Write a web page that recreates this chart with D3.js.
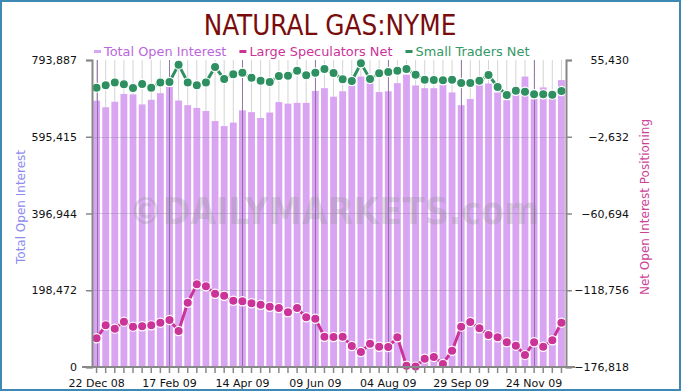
<!DOCTYPE html>
<html>
<head>
<meta charset="utf-8">
<script src="https://cdn.jsdelivr.net/npm/d3@7"></script>
<style>
  html, body { margin: 0; padding: 0; background: #fff; }
  svg { display: block; }
  text { font-family: "DejaVu Sans", Verdana, sans-serif; }
</style>
</head>
<body>
<svg id="chart" width="681" height="391"></svg>
<script>
const dates = ["22 Dec 08","30 Dec 08","06 Jan 09","13 Jan 09","20 Jan 09","27 Jan 09","03 Feb 09","10 Feb 09",
  "17 Feb 09","24 Feb 09","03 Mar 09","10 Mar 09","17 Mar 09","24 Mar 09","31 Mar 09","07 Apr 09",
  "14 Apr 09","21 Apr 09","28 Apr 09","05 May 09","12 May 09","19 May 09","26 May 09","02 Jun 09",
  "09 Jun 09","16 Jun 09","23 Jun 09","30 Jun 09","07 Jul 09","14 Jul 09","21 Jul 09","28 Jul 09",
  "04 Aug 09","11 Aug 09","18 Aug 09","25 Aug 09","01 Sep 09","08 Sep 09","15 Sep 09","22 Sep 09",
  "29 Sep 09","06 Oct 09","13 Oct 09","20 Oct 09","27 Oct 09","03 Nov 09","10 Nov 09","17 Nov 09",
  "24 Nov 09","01 Dec 09","08 Dec 09","15 Dec 09"];
const labelledDates = ["22 Dec 08","17 Feb 09","14 Apr 09","09 Jun 09","04 Aug 09","29 Sep 09","24 Nov 09"];

const totalOpenInterest = [688600,671600,686000,706000,705000,679000,691000,708000,
  725000,689000,677000,670000,662000,636000,623000,632000,
  663600,659000,644000,658000,685000,681000,683000,683000,
  714000,721000,699000,713000,728000,751000,734000,711000,
  713000,734000,756000,728000,721000,721000,730000,710000,
  677000,693000,729000,733000,710000,690000,703000,751000,
  693000,723000,693000,742000];

const largeSpeculatorsNet = [-155100,-145300,-147800,-142500,-146300,-146000,-145300,-143300,
  -141300,-149600,-128200,-114300,-115800,-121400,-122900,-126700,
  -127100,-128600,-129700,-131200,-132200,-135400,-132200,-139200,
  -140300,-153900,-154100,-153900,-160900,-165500,-159200,-161500,
  -161700,-154400,-175800,-176500,-170500,-169200,-174500,-164500,
  -146300,-142800,-147500,-152600,-154400,-158100,-160700,-167700,
  -158100,-161500,-156600,-143300];

const smallTradersNet = [34500,36300,38500,37000,34300,37300,34500,38500,
  38800,51900,38500,36300,38500,50100,41100,44600,
  45800,42000,39800,38800,43300,43600,47300,43900,
  45800,48600,45600,40800,39500,52900,41100,45400,
  46400,47300,48600,44300,40500,40300,40100,40500,
  38000,38000,39800,44100,35000,29000,32200,31500,
  29500,29500,29200,32000];

const leftTicks = [0, 198472, 396944, 595415, 793887];
const rightTicks = [-176818, -118756, -60694, -2632, 55430];

const seriesNames = ["Total Open Interest", "Large Speculators Net", "Small Traders Net"];
const seriesColors = ["#c77ce8", "#cc3399", "#2e9060"];
const legendTextColors = ["#bb66dd", "#cc3399", "#339966"];

const svg = d3.select("#chart");
const W = 681, H = 391;
const m = {left: 92, right: 566, top: 60, bottom: 367};

// outer border
svg.append("rect").attr("x", 1).attr("y", 1).attr("width", W - 2).attr("height", H - 2)
  .attr("fill", "#fff").attr("stroke", "#3d89b3").attr("stroke-width", 2);

const x = d3.scaleBand().domain(dates).range([m.left, m.right]).paddingInner(0.25).paddingOuter(0.125);
const yL = d3.scaleLinear().domain([0, 793887]).range([m.bottom, m.top]);
const yR = d3.scaleLinear().domain([-176818, 55430]).range([m.bottom, m.top]);
const cx = d => x(d) + x.bandwidth() / 2;

// minor vertical gridlines
svg.append("g").selectAll("line").data(dates).join("line")
  .attr("x1", d => cx(d)).attr("x2", d => cx(d))
  .attr("y1", m.top).attr("y2", m.bottom)
  .attr("stroke", "#d4d4d4").attr("stroke-width", 1);

// bars
svg.append("g").selectAll("rect").data(totalOpenInterest).join("rect")
  .attr("x", (d, i) => x(dates[i]))
  .attr("width", x.bandwidth())
  .attr("y", d => yL(d))
  .attr("height", d => yL(0) - yL(d))
  .attr("fill", "#d9a5f2");

// horizontal gridlines
svg.append("g").selectAll("line").data(leftTicks.slice(1, -1)).join("line")
  .attr("x1", m.left).attr("x2", m.right)
  .attr("y1", d => Math.round(yL(d)) + 0.5).attr("y2", d => Math.round(yL(d)) + 0.5)
  .attr("stroke", "#8a7f96").attr("stroke-opacity", 0.35).attr("stroke-width", 1);

// major vertical gridlines
svg.append("g").selectAll("line").data(labelledDates).join("line")
  .attr("x1", d => Math.round(cx(d)) + 0.5).attr("x2", d => Math.round(cx(d)) + 0.5)
  .attr("y1", m.top).attr("y2", m.bottom)
  .attr("stroke", "#7d5a96").attr("stroke-opacity", 0.75).attr("stroke-width", 1);

// watermark (scaled horizontally to fit its span)
const wm = svg.append("text").attr("text-anchor", "middle")
  .attr("font-size", 38).attr("font-weight", "bold")
  .attr("fill", "#8f8f8f").attr("fill-opacity", 0.28)
  .text("©DAILYMARKETS.com");
const wmW = wm.node().getComputedTextLength();
wm.attr("transform", `translate(334,224) scale(${410 / wmW},1)`);

// lines
function drawLine(data, color) {
  const line = d3.line().x((d, i) => cx(dates[i])).y(d => yR(d));
  svg.append("path").datum(data).attr("d", line)
    .attr("fill", "none").attr("stroke", color).attr("stroke-width", 3);
  svg.append("g").selectAll("circle").data(data).join("circle")
    .attr("cx", (d, i) => cx(dates[i])).attr("cy", d => yR(d)).attr("r", 4.6)
    .attr("fill", color).attr("stroke", "#fff").attr("stroke-width", 1.2);
}
drawLine(smallTradersNet, seriesColors[2]);
drawLine(largeSpeculatorsNet, seriesColors[1]);

// axes
const axisColor = "#888";
const fmt = d3.format(",");
const gL = svg.append("g").attr("transform", `translate(${m.left},0)`)
  .call(d3.axisLeft(yL).tickValues(leftTicks).tickFormat(fmt).tickSize(6).tickPadding(9));
const gR = svg.append("g").attr("transform", `translate(${m.right},0)`)
  .call(d3.axisRight(yR).tickValues(rightTicks).tickFormat(fmt).tickSize(6).tickPadding(9));
gR.selectAll(".tick text").attr("text-anchor", "end").attr("x", 629 - m.right);
const gB = svg.append("g").attr("transform", `translate(0,${m.bottom})`)
  .call(d3.axisBottom(x).tickValues(dates).tickFormat(d => labelledDates.includes(d) ? d : "").tickSize(6).tickPadding(6).tickSizeOuter(0));
[gL, gR, gB].forEach(g => {
  g.select(".domain").attr("stroke", axisColor).attr("stroke-width", 2);
  g.selectAll(".tick line").attr("stroke", axisColor).attr("stroke-width", 1.5);
  g.selectAll(".tick text").attr("fill", "#111").attr("font-size", 11)
    .attr("font-family", "'DejaVu Sans', Verdana, sans-serif");
});
gB.select(".domain").attr("d", `M${m.left - 10},0H${m.right + 9}`);

// axis titles
svg.append("text").attr("transform", `translate(25,207) rotate(-90)`).attr("text-anchor", "middle")
  .attr("font-size", 12).attr("fill", "#8c8cee").text("Total Open Interest");
svg.append("text").attr("transform", `translate(649,207) rotate(-90)`).attr("text-anchor", "middle")
  .attr("font-size", 12).attr("fill", "#cc4499").text("Net Open Interest Positioning");

// title
svg.append("text").attr("x", 330).attr("y", 35).attr("text-anchor", "middle")
  .attr("font-family", "'DejaVu Sans Condensed', 'DejaVu Sans', sans-serif")
  .attr("font-stretch", "condensed")
  .attr("font-size", 27.6).attr("fill", "#7a0c0c").text("NATURAL GAS:NYME");

// legend
let lx = 94;
seriesNames.forEach((name, i) => {
  svg.append("rect").attr("x", lx).attr("y", 50).attr("width", 7).attr("height", 3)
    .attr("fill", i === 0 ? "#d9a5f2" : seriesColors[i]);
  const t = svg.append("text").attr("x", lx + 10).attr("y", 55.5).attr("font-size", 12.9)
    .attr("fill", legendTextColors[i]).text(name);
  lx += 10 + t.node().getComputedTextLength() + 13;
});
</script>
</body>
</html>
